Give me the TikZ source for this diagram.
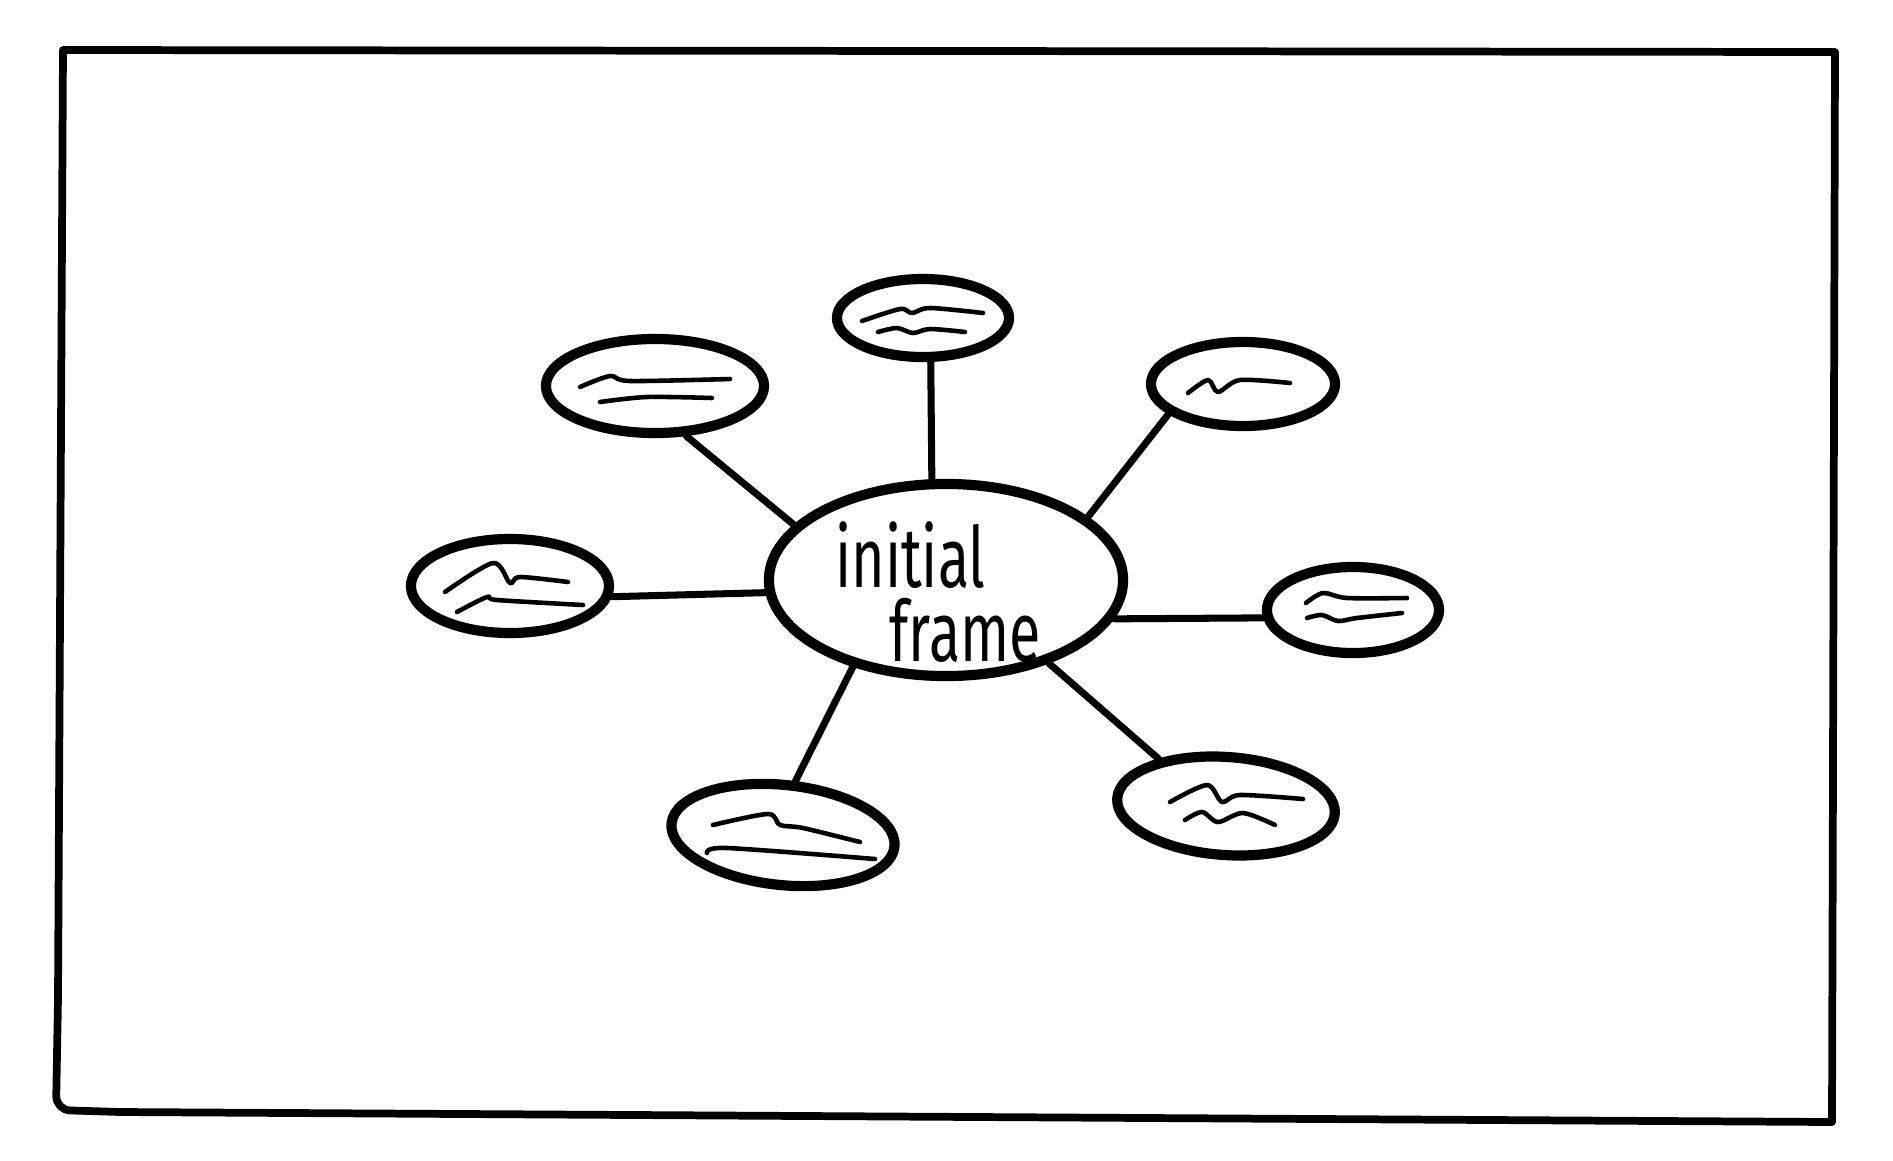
\documentclass[tikz,border=0pt]{standalone}
\usepackage{fontspec}
\newfontfamily\handfont{Fira Sans}
\usetikzlibrary{shapes.geometric}

\begin{document}
\begin{tikzpicture}[x=0.01cm,y=-0.01cm,line cap=round,line join=round]
\tikzset{
 bubble/.style={draw,ellipse,line width=2.9pt,inner sep=0pt},
 spoke/.style={line width=2pt},
 squig/.style={line width=1.3pt},
 edge/.style={line width=2.2pt}
}
\useasboundingbox (0,0) rectangle (1893,1160);
% outer frame
\draw[edge] (63,50) -- (1835,52) -- (1832,1122) -- (120,1112)
  [rounded corners=4pt] -- (56,1110) -- (58,1000) [sharp corners] -- cycle;

% centre and the seven ideas
\node[bubble,minimum width=3.54cm,minimum height=1.92cm] (init) at (946,580) {};
\node[font=\handfont\fontsize{24}{21}\selectfont,xscale=0.68,align=left] (initlbl) at (938,592) {initial\\\hspace*{0.95em}frame};
\node[bubble,minimum width=2.18cm,minimum height=0.94cm] (ideaNW) at (655,386) {};
\node[bubble,minimum width=1.72cm,minimum height=0.78cm] (ideaN) at (923,318) {};
\node[bubble,minimum width=1.84cm,minimum height=0.84cm] (ideaNE) at (1243,384) {};
\node[bubble,minimum width=1.98cm,minimum height=0.94cm] (ideaW) at (510,586) {};
\node[bubble,minimum width=1.72cm,minimum height=0.86cm] (ideaE) at (1353,610) {};
\node[bubble,minimum width=2.24cm,minimum height=1.0cm,rotate=-6] (ideaSW) at (783,835) {};
\node[bubble,minimum width=2.18cm,minimum height=0.98cm,rotate=-4] (ideaSE) at (1226,806) {};

% spokes
\draw[spoke] (init.160) -- (ideaNW.-58);
\draw[spoke] (init.98) -- (ideaN.-80);
\draw[spoke] (init.24) -- (ideaNE.202);
\draw[spoke] (init.184) -- (ideaW.-6);
\draw[spoke] (init.-13) -- (ideaE.185);
\draw[spoke] (init.223) -- (ideaSW.83);
\draw[spoke] (init.-39) -- (ideaSE.149);

% scribbles inside the ideas
\draw[squig,shift={(ideaNW.center)}] plot[smooth] coordinates {(-75,1) (-45,-10) (-25,-5) (75,-7)};
\draw[squig,shift={(ideaNW.center)}] plot[smooth] coordinates {(-55,16) (-8,11) (57,12)};
\draw[squig,shift={(ideaN.center)}] plot[smooth] coordinates {(-61,3) (-23,-9) (-11,-5) (7,-10) (60,-5)};
\draw[squig,shift={(ideaN.center)}] plot[smooth] coordinates {(-45,14) (-26,10) (-10,15) (7,11) (42,14)};
\draw[squig,shift={(ideaNE.center)}] plot[smooth] coordinates {(-55,9) (-35,-4) (-25,8) (-3,-4) (47,-1)};
\draw[squig,shift={(ideaW.center)}] plot[smooth] coordinates {(-65,6) (-17,-23) (0,-3) (10,-9) (58,-4)};
\draw[squig,shift={(ideaW.center)}] plot[smooth] coordinates {(-53,26) (-23,11) (-13,14) (73,19)};
\draw[squig,shift={(ideaE.center)}] plot[smooth] coordinates {(-47,-7) (-30,-17) (-6,-12) (54,-12)};
\draw[squig,shift={(ideaE.center)}] plot[smooth] coordinates {(-46,8) (-31,5) (-15,11) (4,8) (49,3)};
\draw[squig,shift={(ideaSW.center)}] plot[smooth] coordinates {(-70,-10) (-15,-21) (-3,-10) (20,-7) (77,7)};
\draw[squig,shift={(ideaSW.center)}] plot[smooth] coordinates {(-76,18) (-56,13) (92,24)};
\draw[squig,shift={(ideaSE.center)}] plot[smooth] coordinates {(-56,-4) (-19,-21) (-4,-4) (14,-11) (77,-7)};
\draw[squig,shift={(ideaSE.center)}] plot[smooth] coordinates {(-41,14) (-24,6) (-8,16) (17,7) (49,19)};
\end{tikzpicture}
\end{document}
